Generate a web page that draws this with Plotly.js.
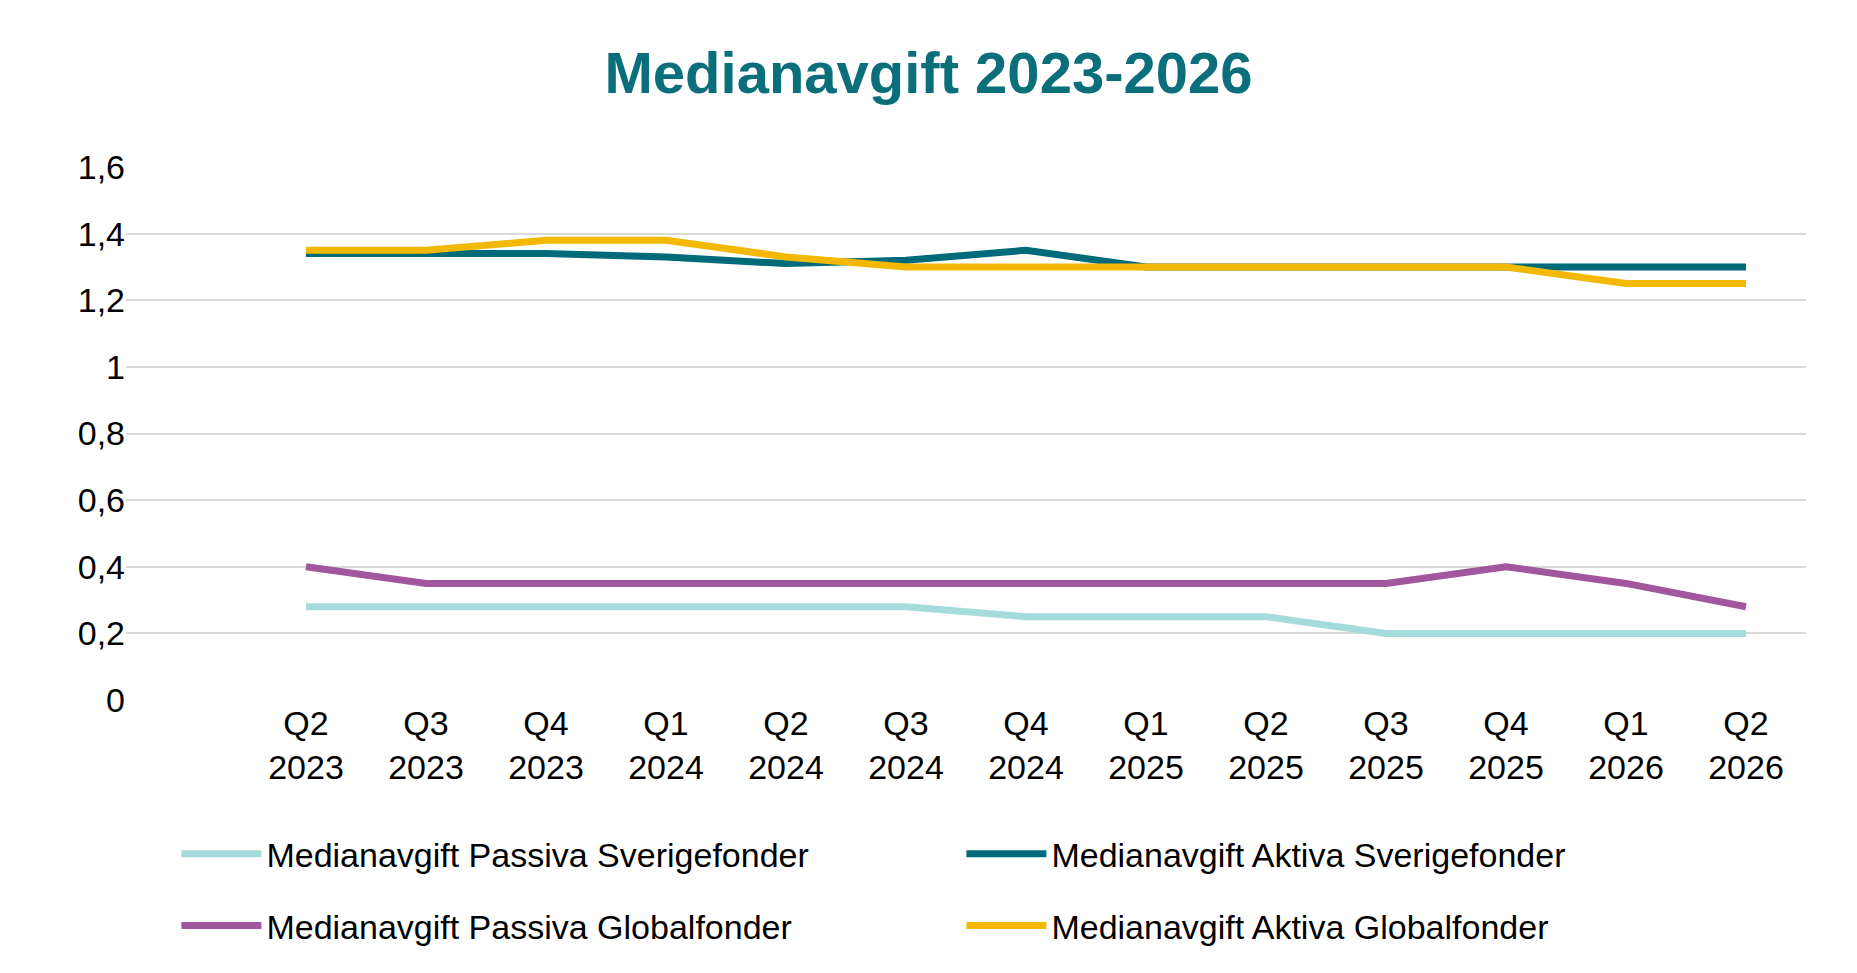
<!DOCTYPE html>
<html>
<head>
<meta charset="utf-8">
<script src="https://cdn.plot.ly/plotly-3.0.1.min.js"></script>
<style>html,body{margin:0;padding:0;background:#fff}#chart{width:1857px;height:973px}</style>
</head>
<body>
<div id="chart"></div>
<script>
'use strict';

const quarters = ['Q2<br>2023', 'Q3<br>2023', 'Q4<br>2023', 'Q1<br>2024', 'Q2<br>2024', 'Q3<br>2024', 'Q4<br>2024',
    'Q1<br>2025', 'Q2<br>2025', 'Q3<br>2025', 'Q4<br>2025', 'Q1<br>2026', 'Q2<br>2026'];

const passivaSverige = [0.28, 0.28, 0.28, 0.28, 0.28, 0.28, 0.25, 0.25, 0.25, 0.20, 0.20, 0.20, 0.20];
const aktivaSverige = [1.34, 1.34, 1.34, 1.33, 1.31, 1.32, 1.35, 1.30, 1.30, 1.30, 1.30, 1.30, 1.30];
const passivaGlobal = [0.40, 0.35, 0.35, 0.35, 0.35, 0.35, 0.35, 0.35, 0.35, 0.35, 0.40, 0.35, 0.28];
const aktivaGlobal = [1.35, 1.35, 1.38, 1.38, 1.33, 1.30, 1.30, 1.30, 1.30, 1.30, 1.30, 1.25, 1.25];

const yTicks = [0, 0.2, 0.4, 0.6, 0.8, 1, 1.2, 1.4, 1.6];
const yTickText = ['0', '0,2', '0,4', '0,6', '0,8', '1', '1,2', '1,4', '1,6'];

const idx = quarters.map((_, i) => i);

function line(name, y, color, legend) {
    return { x: idx, y: y, name: name, type: 'scatter', mode: 'lines', legend: legend,
        line: { color: color, width: 7 } };
}

const traces = [
    line('Medianavgift Passiva Sverigefonder', passivaSverige, '#a6dbdb', 'legend'),
    line('Medianavgift Aktiva Sverigefonder', aktivaSverige, '#006b78', 'legend'),
    line('Medianavgift Passiva Globalfonder', passivaGlobal, '#a0579d', 'legend2'),
    line('Medianavgift Aktiva Globalfonder', aktivaGlobal, '#f2b900', 'legend2')
];

const FONT = 'Arial, "Liberation Sans", sans-serif';

function legendRow(y) {
    return {
        orientation: 'h', x: 0.03, xanchor: 'left', y: y, yanchor: 'middle',
        entrywidth: 690, entrywidthmode: 'pixels',
        font: { size: 34, family: FONT }, itemwidth: 80, traceorder: 'normal'
    };
}

Plotly.newPlot('chart', traces, {
    width: 1857, height: 973,
    font: { family: FONT, size: 33, color: '#000' },
    paper_bgcolor: '#fff', plot_bgcolor: '#fff',
    margin: { l: 126, r: 51, t: 167, b: 273 },
    title: { text: '<b>Medianavgift 2023-2026</b>', font: { size: 58, color: '#0b6f7b', family: FONT },
        x: 0.5, xanchor: 'center', y: 0.925, yanchor: 'middle' },
    xaxis: {
        range: [-1.5, 12.5], tickvals: idx, ticktext: quarters,
        showgrid: false, zeroline: false, showline: false, ticks: '',
        tickfont: { size: 34 }, fixedrange: true
    },
    yaxis: {
        range: [0, 1.6], tickvals: yTicks, ticktext: yTickText,
        showgrid: true, gridcolor: '#d9d9d9', gridwidth: 2, zeroline: false,
        ticks: '', ticklen: 0, tickfont: { size: 34 }, fixedrange: true
    },
    showlegend: true,
    legend: legendRow(-0.289),
    legend2: legendRow(-0.424)
}, { displayModeBar: false, staticPlot: true });
</script>
</body>
</html>
